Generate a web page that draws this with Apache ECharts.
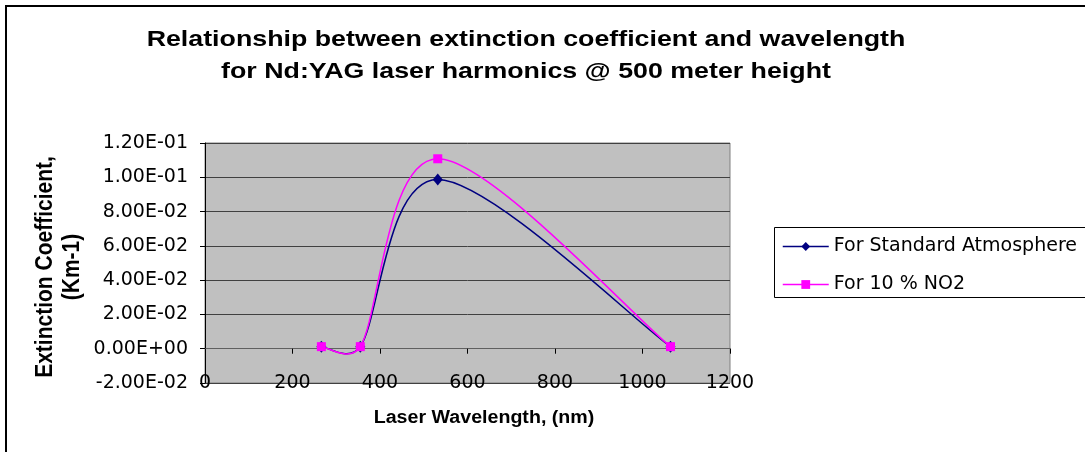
<!DOCTYPE html>
<html>
<head>
<meta charset="utf-8">
<script src="https://cdn.jsdelivr.net/npm/echarts@6/dist/echarts.min.js"></script>
<style>
html,body{margin:0;padding:0;background:#fff;}
#c{width:1085px;height:452px;}
</style>
</head>
<body>
<div id="c"></div>
<script>
// ---- data ----
const wavelengths = [266, 355, 532, 1064];
const standardAtm = [0.0012, 0.0012, 0.0987, 0.0012];
const no2_10pct = [0.0012, 0.0012, 0.1108, 0.0012];
const seriesNames = ['For Standard Atmosphere', 'For 10 % NO2'];
const seriesColors = ['#000080', '#FF00FF'];
const titleLines = ['Relationship between extinction coefficient and wavelength', 'for Nd:YAG laser harmonics @ 500 meter height'];
const xAxisTitle = 'Laser Wavelength, (nm)';
const yAxisTitleLines = ['Extinction Coefficient,', '(Km-1)'];

function sci(v) {
  if (Math.abs(v) < 1e-12) return '0.00E+00';
  let e = Math.floor(Math.log10(Math.abs(v)) + 1e-9);
  let ms = (v / Math.pow(10, e)).toFixed(2);
  if (Math.abs(parseFloat(ms)) >= 10) { e += 1; ms = (v / Math.pow(10, e)).toFixed(2); }
  const sign = e < 0 ? '-' : '+';
  const ae = Math.abs(e);
  return ms + 'E' + sign + (ae < 10 ? '0' + ae : '' + ae);
}

// Excel-style smoothed curve (Bezier segments) from pixel points
function excelSegments(pts) {
  const d = (a, b) => Math.hypot(b[0] - a[0], b[1] - a[1]);
  const segs = [];
  for (let i = 0; i < pts.length - 1; i++) {
    const p0 = pts[i - 1] || pts[i], p1 = pts[i], p2 = pts[i + 1], p3 = pts[i + 2] || pts[i + 1];
    const d12 = d(p1, p2), d02 = d(p0, p2), d13 = d(p1, p3);
    let f1 = 1 / 6, f2 = 1 / 6;
    if (d02 > 0 && d02 * f1 > d12 / 2) f1 = d12 / (2 * d02);
    if (d13 > 0 && d13 * f2 > d12 / 2) f2 = d12 / (2 * d13);
    segs.push({
      x1: p1[0], y1: p1[1], x2: p2[0], y2: p2[1],
      cpx1: p1[0] + (p2[0] - p0[0]) * f1, cpy1: p1[1] + (p2[1] - p0[1]) * f1,
      cpx2: p2[0] - (p3[0] - p1[0]) * f2, cpy2: p2[1] - (p3[1] - p1[1]) * f2
    });
  }
  return segs;
}

function curveSeries(vals, color, id) {
  return {
    type: 'custom', name: id, xAxisIndex: 0, clip: false, z: 2,
    data: [[wavelengths[0], vals[0]]],
    renderItem: function (params, api) {
      const pts = wavelengths.map((w, i) => api.coord([w, vals[i]]));
      return {
        type: 'group',
        children: excelSegments(pts).map(s => ({
          type: 'bezierCurve', shape: s,
          style: {stroke: color, lineWidth: 1.5, fill: 'none'}
        }))
      };
    }
  };
}

const chart = echarts.init(document.getElementById('c'), null, {renderer: 'canvas'});
const tickFont = {fontFamily: 'DejaVu Sans', fontSize: 19, color: '#000'};
const option = {
  animation: false,
  backgroundColor: '#fff',
  grid: {left: 205, right: 355, top: 143, bottom: 69, show: true, backgroundColor: '#C0C0C0', borderColor: '#808080', borderWidth: 1},
  legend: {
    orient: 'vertical', left: 774, top: 227, z: 10,
    backgroundColor: 'transparent', borderWidth: 0,
    padding: [10, 10, 6, 8], itemGap: 19, itemWidth: 46, itemHeight: 11,
    textStyle: {fontFamily: 'DejaVu Sans', fontSize: 19, color: '#000'},
    data: seriesNames.map((n, i) => ({name: n, lineStyle: {color: seriesColors[i], width: 1.5, opacity: 1}}))
  },
  xAxis: [
    {type: 'value', min: 0, max: 1200, interval: 200, position: 'bottom',
     axisLine: {show: true, onZero: true, lineStyle: {color: '#606060', width: 1}},
     axisTick: {show: true, inside: false, length: 5, lineStyle: {color: '#000'}},
     axisLabel: {show: false}, splitLine: {show: false}},
    {type: 'value', min: 0, max: 1200, interval: 200, position: 'bottom',
     axisLine: {show: false, onZero: false}, axisTick: {show: false}, splitLine: {show: false},
     axisLabel: Object.assign({margin: 0, verticalAlign: 'middle', formatter: v => String(v)}, tickFont)}
  ],
  yAxis: {type: 'value', min: -0.02, max: 0.12, interval: 0.02,
    axisLine: {show: true, onZero: false, lineStyle: {color: '#000', width: 1}},
    axisTick: {show: true, inside: false, length: 5, lineStyle: {color: '#000'}},
    axisLabel: Object.assign({margin: 17, formatter: sci}, tickFont),
    splitLine: {show: true, lineStyle: {color: '#404040', width: 1}}},
  graphic: [
    {type: 'rect', z: -10, shape: {x: 6, y: 6, width: 1100, height: 470}, style: {fill: 'none', stroke: '#000', lineWidth: 2}},
    {type: 'rect', z: -5, shape: {x: 774.5, y: 227.5, width: 330, height: 70}, style: {fill: '#fff', stroke: '#000', lineWidth: 1}},
    {type: 'text', x: 526, y: 40, scaleX: 1.217, style: {text: titleLines[0], textAlign: 'center', textVerticalAlign: 'middle', font: 'bold 22px "Liberation Sans"', fill: '#000'}},
    {type: 'text', x: 526, y: 72, scaleX: 1.217, style: {text: titleLines[1], textAlign: 'center', textVerticalAlign: 'middle', font: 'bold 22px "Liberation Sans"', fill: '#000'}},
    {type: 'text', x: 45, y: 267, rotation: Math.PI / 2, scaleY: 1.15, style: {text: yAxisTitleLines[0], textAlign: 'center', textVerticalAlign: 'middle', font: 'bold 21px "Liberation Sans"', fill: '#000'}},
    {type: 'text', x: 72, y: 267, rotation: Math.PI / 2, scaleY: 1.15, style: {text: yAxisTitleLines[1], textAlign: 'center', textVerticalAlign: 'middle', font: 'bold 21px "Liberation Sans"', fill: '#000'}},
    {type: 'text', x: 484, y: 418, scaleX: 1.09, style: {text: xAxisTitle, textAlign: 'center', textVerticalAlign: 'middle', font: 'bold 18px "Liberation Sans"', fill: '#000'}}
  ],
  series: [
    curveSeries(standardAtm, seriesColors[0], 'curve-std'),
    curveSeries(no2_10pct, seriesColors[1], 'curve-no2'),
    {name: seriesNames[0], type: 'line', xAxisIndex: 0, z: 3,
     data: wavelengths.map((w, i) => [w, standardAtm[i]]),
     symbol: 'diamond', symbolSize: [10, 12],
     itemStyle: {color: seriesColors[0]}, lineStyle: {color: seriesColors[0], width: 1.5, opacity: 0}},
    {name: seriesNames[1], type: 'line', xAxisIndex: 0, z: 4,
     data: wavelengths.map((w, i) => [w, no2_10pct[i]]),
     symbol: 'rect', symbolSize: 9,
     itemStyle: {color: seriesColors[1]}, lineStyle: {color: seriesColors[1], width: 1.5, opacity: 0}}
  ]
};
chart.setOption(option);
</script>
</body>
</html>
